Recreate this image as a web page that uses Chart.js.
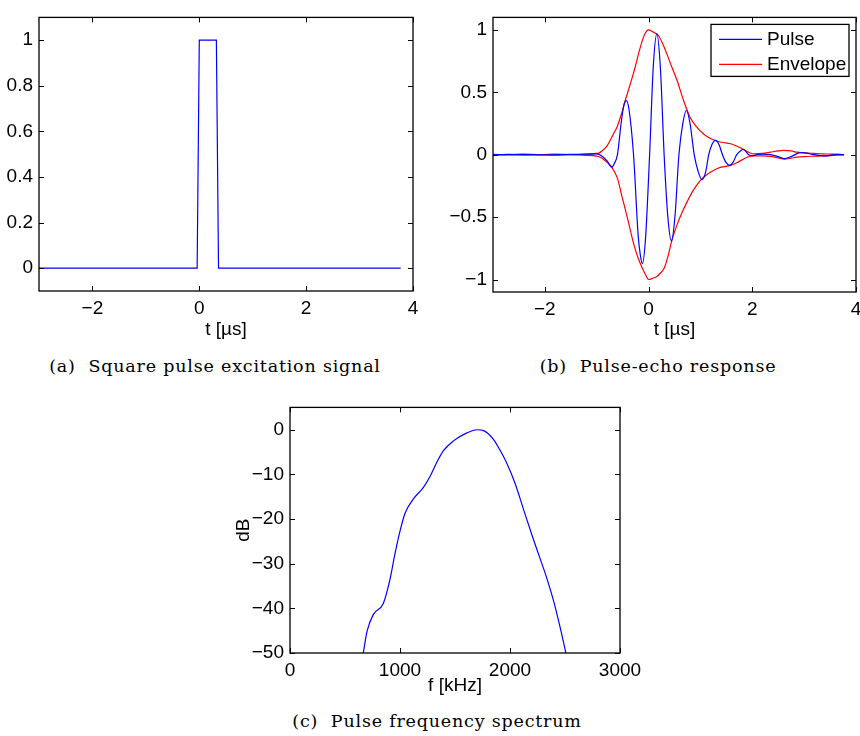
<!DOCTYPE html>
<html lang="en">
<head>
  <meta charset="UTF-8">
  <title>Pulse excitation, echo and spectrum</title>
  <script src="https://cdn.jsdelivr.net/npm/chart.js"></script>
  <style>
    body { margin: 0; background: #fff; overflow: hidden; width: 860px; height: 736px; position: relative; }
    .box { position: absolute; }
    .cap { position: absolute; font-family: "DejaVu Serif", serif; font-size: 17.5px; letter-spacing: 0.8px; color: #000; white-space: nowrap; transform: translateX(-50%); }
  </style>
</head>
<body>
  <div class="box" style="left:0;top:0;width:430px;height:345px"><canvas id="chartA"></canvas></div>
  <div class="box" style="left:430px;top:0;width:440px;height:345px"><canvas id="chartB"></canvas></div>
  <div class="box" style="left:220px;top:390px;width:430px;height:310px"><canvas id="chartC"></canvas></div>
  <div class="cap" style="left:215px;top:356px">(a)&nbsp; Square pulse excitation signal</div>
  <div class="cap" style="left:658px;top:356px">(b)&nbsp; Pulse-echo response</div>
  <div class="cap" style="left:437px;top:711px">(c)&nbsp; Pulse frequency spectrum</div>
  <script>
    // (a) square pulse
    const squareT = [-3, -0.04, 0, 0.32, 0.36, 3.77];
    const squareV = [0, 0, 1, 1, 0, 0];
    const ticksAx = [-2, 0, 2, 4];
    const ticksAy = [0, 0.2, 0.4, 0.6, 0.8, 1];

    // (b) pulse-echo response
    const pulseT = [-3, -2.5, -2, -1.5, -1.2, -1.0, -0.9, -0.8, -0.71, -0.66, -0.6, -0.53, -0.48, -0.43,
      -0.38, -0.29, -0.2, -0.16, -0.12, -0.06, 0.02, 0.09, 0.16, 0.23, 0.30, 0.37, 0.44,
      0.51, 0.585, 0.66, 0.73, 0.80, 0.88, 0.96, 1.03, 1.10, 1.16, 1.22, 1.29, 1.36, 1.425,
      1.49, 1.56, 1.63, 1.70, 1.77, 1.83, 1.93, 2.02, 2.1, 2.2, 2.35, 2.5, 2.62, 2.75, 2.93,
      3.05, 3.18, 3.3, 3.41, 3.55, 3.65, 3.77];
    const pulseV = [0, 0.002, -0.002, 0.002, 0.004, 0.006, -0.01, -0.05, -0.10, -0.07, 0, 0.25, 0.39, 0.434,
      0.37, 0, -0.65, -0.8, -0.872, -0.68, 0, 0.7, 0.968, 0.68, 0, -0.49, -0.69,
      -0.49, 0, 0.25, 0.354, 0.25, 0, -0.14, -0.2, -0.14, 0, 0.08, 0.115, 0.08, 0,
      -0.06, -0.086, -0.06, 0, 0.03, 0.042, 0.0, -0.008, 0.002, 0.005, 0, -0.015, -0.032, -0.015, 0.016,
      0.012, 0.0, -0.006, -0.01, -0.002, 0.003, 0];
    const envUpT = [-3, -2.7, -2.4, -2.1, -1.8, -1.5, -1.2, -1.0, -0.96, -0.9, -0.8, -0.675, -0.61, -0.52, -0.45,
      -0.35, -0.26, -0.18, -0.1, -0.04, 0, 0.06, 0.12, 0.19, 0.27, 0.35, 0.45, 0.55, 0.675,
      0.8, 0.93, 1.05, 1.15, 1.25, 1.4, 1.58, 1.7, 1.83, 1.93, 2.03, 2.2, 2.35, 2.5, 2.6,
      2.75, 2.86, 3.0, 3.18, 3.35, 3.5, 3.65, 3.77];
    const envUpV = [0.003, -0.002, 0.004, 0, 0.004, 0, 0.005, 0.01, 0.013, 0.03, 0.07, 0.168, 0.22, 0.33, 0.434,
      0.57, 0.70, 0.83, 0.94, 0.99, 1.0, 0.99, 0.975, 0.955, 0.89, 0.81, 0.70, 0.594, 0.434,
      0.3, 0.22, 0.17, 0.14, 0.12, 0.10, 0.088, 0.07, 0.042, 0.02, 0.006, 0.01, 0.02, 0.03, 0.034,
      0.03, 0.02, 0.016, 0.01, 0.007, 0.005, 0.003, 0];
    const envLoT = [-3, -2.7, -2.4, -2.1, -1.8, -1.5, -1.2, -1.0, -0.93, -0.8, -0.71, -0.6, -0.51, -0.4,
      -0.29, -0.2, -0.13, -0.06, 0, 0.08, 0.16, 0.225, 0.30, 0.37, 0.45, 0.55, 0.65, 0.74,
      0.87, 1.0, 1.12, 1.25, 1.4, 1.58, 1.7, 1.9, 2.03, 2.2, 2.35, 2.5, 2.62, 2.75, 2.86,
      3.0, 3.18, 3.35, 3.5, 3.65, 3.77];
    const envLoV = [-0.003, 0.002, -0.004, 0, -0.004, 0, -0.005, -0.012, -0.02, -0.06, -0.10, -0.19, -0.34, -0.52,
      -0.71, -0.83, -0.9, -0.96, -1.0, -0.99, -0.975, -0.95, -0.91, -0.82, -0.686, -0.56, -0.46, -0.38,
      -0.28, -0.206, -0.16, -0.126, -0.1, -0.086, -0.065, -0.02, -0.01, -0.01, -0.013, -0.025, -0.035, -0.028, -0.02,
      -0.015, -0.012, -0.01, -0.008, -0.004, 0];
    const ticksBx = [-2, 0, 2, 4];
    const ticksBy = [-1, -0.5, 0, 0.5, 1];

    // (c) spectrum
    const freqKHz = [666, 702, 757, 848, 909, 955, 1000, 1046, 1122, 1213, 1274, 1335, 1395, 1486, 1608, 1700,
      1760, 1851, 1910, 1973, 2049, 2125, 2201, 2277, 2338, 2398, 2459, 2508];
    const specDb = [-50, -45, -41.4, -38.9, -33.5, -27.7, -22.7, -18.7, -15.5, -12.9, -10.4, -7.3, -4.7, -2.5, -0.7, 0,
      -0.2, -2.2, -4.6, -7.6, -12.2, -18, -23.7, -29.1, -33.5, -38.5, -44.6, -50];
    const ticksCx = [0, 1000, 2000, 3000];
    const ticksCy = [-50, -40, -30, -20, -10, 0];

    const FONT = { family: '"Liberation Sans", Arial, sans-serif', size: 19 };
    const toXY = (xs, ys) => xs.map((x, i) => ({ x: x, y: ys[i] }));
    const minus = v => String(v).replace('-', '\u2212');

    // box round the axes with inward tick marks on all four sides
    const matlabBox = {
      id: 'matlabBox',
      afterDatasetsDraw(chart) {
        const { ctx, chartArea: a, scales: { x, y } } = chart;
        const L = 5;
        ctx.save();
        ctx.strokeStyle = '#000';
        ctx.lineWidth = 1;
        ctx.beginPath();
        x.ticks.forEach(t => {
          const px = Math.round(x.getPixelForValue(t.value)) + 0.5;
          ctx.moveTo(px, a.bottom); ctx.lineTo(px, a.bottom - L);
          ctx.moveTo(px, a.top); ctx.lineTo(px, a.top + L);
        });
        y.ticks.forEach(t => {
          const py = Math.round(y.getPixelForValue(t.value)) + 0.5;
          ctx.moveTo(a.left, py); ctx.lineTo(a.left + L, py);
          ctx.moveTo(a.right, py); ctx.lineTo(a.right - L, py);
        });
        ctx.stroke();
        ctx.lineWidth = 1.3;
        ctx.strokeRect(a.left, a.top, a.right - a.left, a.bottom - a.top);
        ctx.restore();
      }
    };

    // MATLAB style legend box inside the axes
    const boxLegend = {
      id: 'boxLegend',
      afterDraw(chart, args, opts) {
        if (!opts.show) return;
        const { ctx, chartArea: a } = chart;
        const items = chart.data.datasets.filter(d => !d.noLegend);
        const w = 138, h = 52;
        const x0 = a.right - 7 - w, y0 = a.top + 7;
        ctx.save();
        ctx.fillStyle = '#fff';
        ctx.fillRect(x0, y0, w, h);
        ctx.strokeStyle = '#000';
        ctx.lineWidth = 1.3;
        ctx.strokeRect(x0, y0, w, h);
        ctx.font = FONT.size + 'px ' + FONT.family;
        ctx.textBaseline = 'middle';
        items.forEach((d, i) => {
          const cy = y0 + 15 + i * 25;
          ctx.strokeStyle = d.borderColor;
          ctx.lineWidth = 1.2;
          ctx.beginPath();
          ctx.moveTo(x0 + 8, cy); ctx.lineTo(x0 + 51, cy);
          ctx.stroke();
          ctx.fillStyle = '#000';
          ctx.fillText(d.label, x0 + 56, cy);
        });
        ctx.restore();
      }
    };

    function makeChart(id, datasets, o) {
      return new Chart(document.getElementById(id), {
        type: 'scatter',
        data: { datasets: datasets },
        options: {
          responsive: true,
          maintainAspectRatio: false,
          animation: false,
          layout: { padding: { left: 0, top: o.area[1], right: o.w - o.area[2], bottom: 0 } },
          plugins: { legend: { display: false }, tooltip: { enabled: false }, boxLegend: { show: !!o.legend } },
          scales: {
            x: {
              type: 'linear', min: o.xr[0], max: o.xr[1],
              grid: { display: false, drawTicks: false }, border: { display: false },
              afterBuildTicks: s => { s.ticks = o.xt.map(v => ({ value: v })); },
              afterFit: s => { s.height = o.h - o.area[3]; },
              ticks: { color: '#000', font: FONT, padding: 6, maxRotation: 0, autoSkip: false, callback: minus },
              title: { display: true, text: o.xl, color: '#000', font: FONT, padding: { top: 0, bottom: o.xlPad } }
            },
            y: {
              type: 'linear', min: o.yr[0], max: o.yr[1],
              grid: { display: false, drawTicks: false }, border: { display: false },
              afterBuildTicks: s => { s.ticks = o.yt.map(v => ({ value: v })); },
              afterFit: s => { s.width = o.area[0]; },
              ticks: { color: '#000', font: FONT, padding: 6, autoSkip: false, callback: minus },
              title: { display: !!o.yl, text: o.yl || '', color: '#000', font: FONT, padding: { top: 12, bottom: 0 } }
            }
          }
        },
        plugins: [matlabBox, boxLegend]
      });
    }

    const line = (data, color, extra) => Object.assign({
      data: data, showLine: true, borderColor: color, borderWidth: 1.2,
      pointRadius: 0, fill: false, cubicInterpolationMode: 'monotone'
    }, extra || {});

    makeChart('chartA', [line(toXY(squareT, squareV), '#0000ff', { label: 'Square', cubicInterpolationMode: 'default' })], {
      w: 430, h: 345, area: [39, 6, 413, 291], xr: [-3, 4], yr: [-0.1, 1.1],
      xt: ticksAx, yt: ticksAy, xl: 't [\u00b5s]', xlPad: 4
    });

    makeChart('chartB', [
      line(toXY(pulseT, pulseV), '#0000ff', { label: 'Pulse' }),
      line(toXY(envUpT, envUpV), '#ff0000', { label: 'Envelope' }),
      line(toXY(envLoT, envLoV), '#ff0000', { label: 'Envelope', noLegend: true })
    ], {
      w: 440, h: 345, area: [63, 17, 426, 292], xr: [-3, 4], yr: [-1.1, 1.1],
      xt: ticksBx, yt: ticksBy, xl: 't [\u00b5s]', xlPad: 4, legend: true
    });

    makeChart('chartC', [line(toXY(freqKHz, specDb), '#0000ff', { label: 'Spectrum' })], {
      w: 430, h: 310, area: [70, 9, 400, 263], xr: [0, 3000], yr: [-50, 5],
      xt: ticksCx, yt: ticksCy, xl: 'f [kHz]', xlPad: 3, yl: 'dB'
    });
  </script>
</body>
</html>
